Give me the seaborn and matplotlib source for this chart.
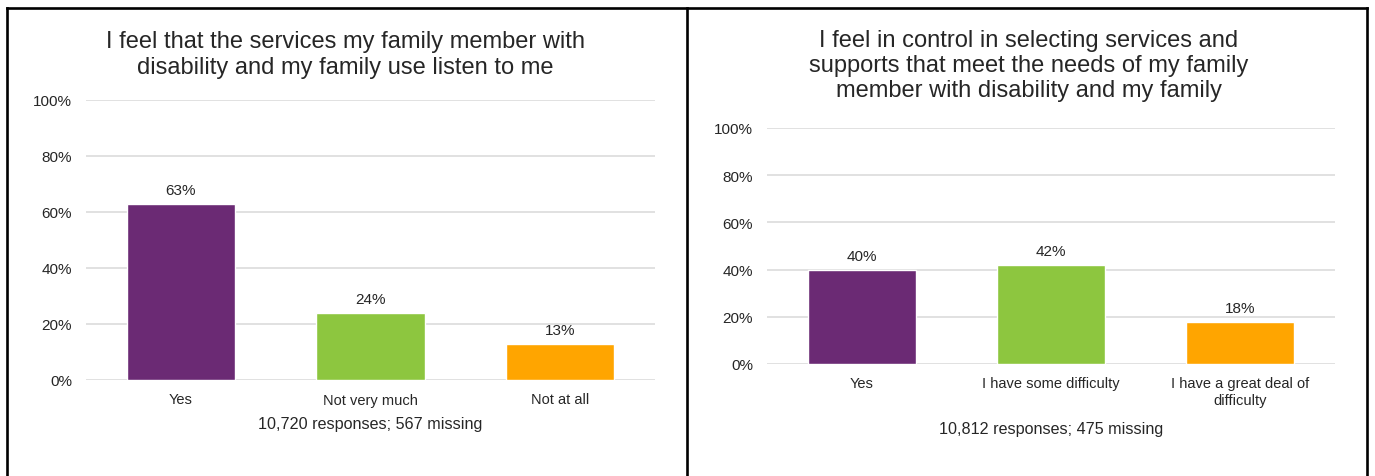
import matplotlib
matplotlib.use("Agg")
import matplotlib.pyplot as plt
from matplotlib.lines import Line2D
from matplotlib.ticker import PercentFormatter
import seaborn as sns
import pandas as pd

# Survey question 1: being listened to
listen_categories = ["Yes", "Not very much", "Not at all"]
listen_values = [63, 24, 13]
listen_title = "I feel that the services my family member with\ndisability and my family use listen to me"
listen_note = "10,720 responses; 567 missing"

# Survey question 2: control in selecting services
control_categories = ["Yes", "I have some difficulty", "I have a great deal of\ndifficulty"]
control_values = [40, 42, 18]
control_title = ("I feel in control in selecting services and\n"
                 "supports that meet the needs of my family\n"
                 "member with disability and my family")
control_note = "10,812 responses; 475 missing"

y_ticks = [0, 20, 40, 60, 80, 100]
bar_colors = ["#6B2A74", "#8DC63F", "#FFA500"]

sns.set_theme(style="white")
plt.rcParams["font.family"] = ["Liberation Sans", "DejaVu Sans"]

W, H = 1375, 477
fig = plt.figure(figsize=(W / 100, H / 100), dpi=100)
fig.patch.set_facecolor("white")

text_color = "#262626"
grid_color = "#D9D9D9"


def px_axes(x0, x1, y_top, y_bottom):
    return fig.add_axes([x0 / W, 1 - y_bottom / H, (x1 - x0) / W, (y_bottom - y_top) / H])


def draw_panel(ax, categories, values, note, note_y):
    df = pd.DataFrame({"category": categories, "value": values})
    sns.barplot(data=df, x="category", y="value", hue="category",
                palette=bar_colors, saturation=1, width=0.57,
                legend=False, ax=ax, zorder=3)
    ax.set_xlim(-0.5, len(categories) - 0.5)
    ax.set_ylim(0, 100)
    ax.set_yticks(y_ticks)
    ax.yaxis.set_major_formatter(PercentFormatter(decimals=0))
    ax.grid(axis="y", color=grid_color, lw=1.1, zorder=0)
    ax.set_axisbelow(True)
    for s in ax.spines.values():
        s.set_visible(False)
    ax.tick_params(axis="both", length=0, colors=text_color)
    ax.tick_params(axis="y", pad=10, labelsize=11)
    ax.tick_params(axis="x", pad=9, labelsize=10.5)
    ax.set_xlabel("")
    ax.set_ylabel("")
    for c in ax.containers:
        ax.bar_label(c, labels=[f"{v:.0f}%" for v in c.datavalues],
                     padding=5, fontsize=11, color=text_color)
    ax.text(0.5, note_y, note, transform=ax.transAxes, ha="center",
            va="center", fontsize=11.6, color=text_color)


ax1 = px_axes(86, 655, 101, 381)
draw_panel(ax1, listen_categories, listen_values, listen_note, -0.157)

ax2 = px_axes(767, 1335, 129, 365)
draw_panel(ax2, control_categories, control_values, control_note, -0.275)

# Panel titles
fig.text(345 / W, 1 - 55 / H, listen_title, ha="center", va="center",
         fontsize=17, color=text_color, linespacing=1.2)
fig.text(1029 / W, 1 - 66 / H, control_title, ha="center", va="center",
         fontsize=17, color=text_color, linespacing=1.2)

# Table-style frame around the two panels
frame = dict(color="black", lw=1.9, solid_capstyle="projecting")
y_top = 1 - 9 / H
fig.add_artist(Line2D([7 / W, 1366.5 / W], [y_top, y_top], transform=fig.transFigure, **frame))
for xp in (7, 687, 1366.5):
    fig.add_artist(Line2D([xp / W, xp / W], [0, y_top], transform=fig.transFigure, **frame))

fig.savefig("out.png", dpi=100, facecolor="white")
